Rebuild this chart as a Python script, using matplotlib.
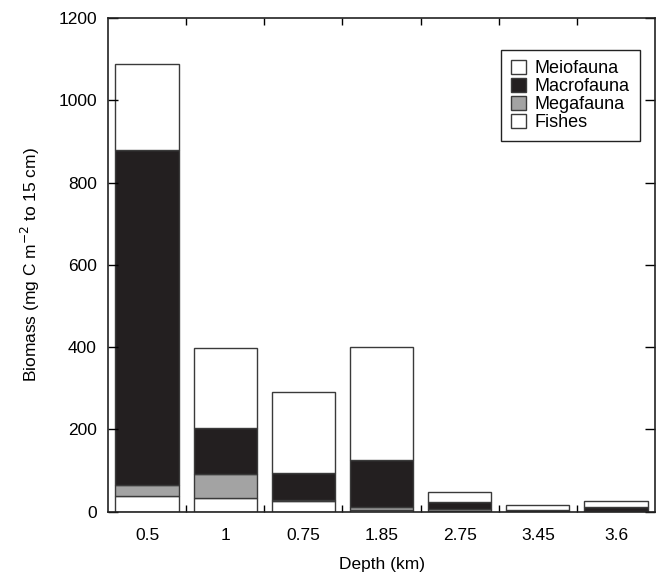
import numpy as np
import matplotlib
matplotlib.use("Agg")
import matplotlib.pyplot as plt
from matplotlib.ticker import FixedLocator

plt.rcParams['font.family'] = ['Liberation Sans', 'DejaVu Sans']
plt.rcParams['axes.unicode_minus'] = False

# === data (mg C m-2) ===
depths = ["0.5", "1", "0.75", "1.85", "2.75", "3.45", "3.6"]
fishes = [38, 33, 26, 4, 2, 1, 1]
megafauna = [28, 59, 2, 8, 4, 1, 1]
macrofauna = [814, 112, 65, 114, 17, 2, 10]
meiofauna = [209, 194, 197, 274, 26, 13, 15]

fig = plt.figure(figsize=(6.56, 5.79), dpi=100)
ax = fig.add_axes([0.1646, 0.1163, 0.834, 0.8526])

x = np.arange(len(depths))
w = 0.81
edge = "#3a3a3a"
bottom = np.zeros(len(depths))
h_fish = ax.bar(x, fishes, w, bottom=bottom, facecolor="white", edgecolor=edge, linewidth=1)
bottom += fishes
h_mega = ax.bar(x, megafauna, w, bottom=bottom, facecolor="#a3a3a3", edgecolor=edge, linewidth=1)
bottom += megafauna
h_macro = ax.bar(x, macrofauna, w, bottom=bottom, facecolor="#231f20", edgecolor=edge, linewidth=1)
bottom += macrofauna
h_meio = ax.bar(x, meiofauna, w, bottom=bottom, facecolor="white", edgecolor=edge, linewidth=1)

ax.set_xlim(-0.5, len(depths) - 0.5)
ax.set_ylim(0, 1200)
ax.set_yticks(range(0, 1201, 200))
ax.set_xticks(x)
ax.set_xticklabels(depths)
ax.xaxis.set_minor_locator(FixedLocator(np.arange(0.5, len(depths) - 0.5, 1)))

fs = 12.5
ax.tick_params(axis="y", which="major", direction="in", length=7, width=1,
               left=True, right=True, labelsize=fs, pad=8)
ax.tick_params(axis="x", which="major", length=0, labelsize=fs, pad=12)
ax.tick_params(axis="x", which="minor", direction="in", length=5, width=1,
               top=True, bottom=True)
for s in ax.spines.values():
    s.set_linewidth(1.2)
    s.set_color("#222222")

ax.set_ylabel("Biomass (mg C m$^{-2}$ to 15 cm)", fontsize=fs, labelpad=12)
ax.set_xlabel("Depth (km)", fontsize=fs, labelpad=10)

leg = ax.legend([h_meio, h_macro, h_mega, h_fish],
                ["Meiofauna", "Macrofauna", "Megafauna", "Fishes"],
                loc="upper right", bbox_to_anchor=(0.972, 0.935), fontsize=13,
                handlelength=0.8, handleheight=0.8, handletextpad=0.5,
                labelspacing=0.05, borderpad=0.55, borderaxespad=0,
                fancybox=False, framealpha=1)
leg.get_frame().set_edgecolor("#222222")
leg.get_frame().set_linewidth(1)

fig.savefig("out.png", dpi=100)
